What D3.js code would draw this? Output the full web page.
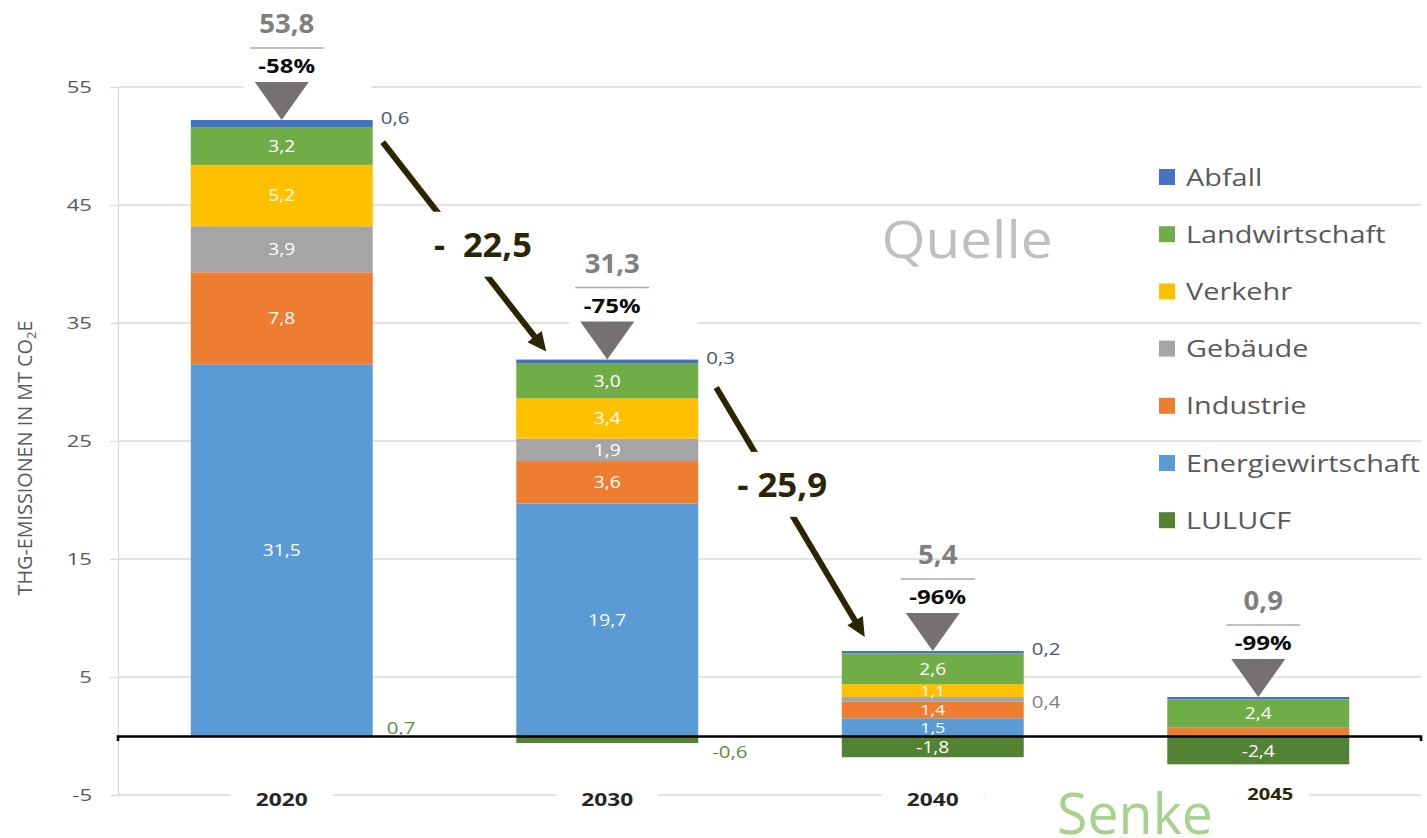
<!DOCTYPE html>
<html><head><meta charset="utf-8">
<script src="https://cdn.jsdelivr.net/npm/d3@7"></script>
<style>html,body{margin:0;padding:0;background:#fff;} svg{display:block;font-family:"Open Sans",sans-serif;} text{white-space:pre;}</style>
</head><body><svg id="c" width="1427" height="838"></svg>
<script>
// ---------- data ----------
const years = ["2020", "2030", "2040", "2045"];
const energiewirtschaft = [31.5, 19.7, 1.5, 0];
const industrie = [7.8, 3.6, 1.4, 0.7];
const gebaeude = [3.9, 1.9, 0.4, 0];
const verkehr = [5.2, 3.4, 1.1, 0];
const landwirtschaft = [3.2, 3.0, 2.6, 2.4];
const abfall = [0.6, 0.3, 0.2, 0.2];
const lulucf = [0.7, -0.6, -1.8, -2.4];
const totalLabels = ["53,8", "31,3", "5,4", "0,9"];
const reductionLabels = ["-58%", "-75%", "-96%", "-99%"];
const deltaLabels = ["-  22,5", "- 25,9"];
const yTicks = [-5, 5, 15, 25, 35, 45, 55];
const legendNames = ["Abfall", "Landwirtschaft", "Verkehr", "Gebäude", "Industrie", "Energiewirtschaft", "LULUCF"];

// ---------- style ----------
const colors = {
  "Abfall": "#4472c4", "Landwirtschaft": "#70ad47", "Verkehr": "#ffc000", "Gebäude": "#a5a5a5",
  "Industrie": "#ed7d31", "Energiewirtschaft": "#5b9bd5", "LULUCF": "#548235"
};
const outsideColors = { "Abfall": "#44546a", "Gebäude": "#7f7f7f", "LULUCF": "#5e8c3a" };
const arrowColor = "#2b2503";

const svg = d3.select("#c");
svg.append("rect").attr("width", 1427).attr("height", 838).attr("fill", "#fff");

const x = d3.scaleBand().domain(years).range([119, 1421]).paddingInner(0.441).paddingOuter(0.2205);
const y = d3.scaleLinear().domain([-5, 55]).range([795, 87]);
const bw = x.bandwidth();

function txt(g, str, px, py, o) {
  const t = g.append("text").text(str)
    .attr("font-size", o.size).attr("font-weight", o.weight || 400)
    .attr("fill", o.fill || "#595959").attr("text-anchor", o.anchor || "middle");
  if (o.dy) t.attr("dy", o.dy);
  let sx = o.sx || 1.2;
  if (o.w) { const len = t.node().getComputedTextLength(); if (len > 0) sx = o.w / len; }
  t.attr("transform", `translate(${px},${py}) scale(${sx},1)`);
  return t;
}
const fmt = v => (v < 0 ? "-" : "") + Math.abs(v).toFixed(1).replace(".", ",");

// ---------- gridlines ----------
svg.append("g").selectAll("line").data(yTicks).join("line")
  .attr("x1", 119).attr("x2", 1421).attr("y1", d => y(d)).attr("y2", d => y(d))
  .attr("stroke", "#d9d9d9").attr("stroke-width", 1.3);

// ---------- y axis ----------
const ax = svg.append("g").attr("transform", "translate(118,0)")
  .call(d3.axisLeft(y).tickValues(yTicks).tickSize(8).tickSizeOuter(0).tickFormat(d => d));
ax.select(".domain").attr("stroke", "#d9d9d9").attr("stroke-width", 1.3);
ax.selectAll(".tick line").attr("stroke", "#d9d9d9").attr("stroke-width", 1.3);
ax.selectAll(".tick text").attr("font-size", 17).attr("fill", "#595959")
  .attr("font-family", "Open Sans, sans-serif")
  .attr("x", -26 / 1.3).attr("transform", "scale(1.3,1)");

// y title
const yt = svg.append("text").attr("font-size", 18).attr("fill", "#595959").attr("text-anchor", "middle");
yt.append("tspan").text("THG-EMISSIONEN IN MT CO");
yt.append("tspan").text("2").attr("font-size", 12).attr("dy", 4);
yt.append("tspan").text("E").attr("dy", -4);
{
  const bb = yt.node().getBBox();
  yt.attr("transform", `translate(32,458) rotate(-90) scale(${275 / bb.width},1.08)`);
}

// ---------- white boxes that hide gridlines ----------
const positiveKeys = ["Energiewirtschaft", "Industrie", "Gebäude", "Verkehr", "Landwirtschaft", "Abfall"];
const seriesValues = {
  "Energiewirtschaft": energiewirtschaft, "Industrie": industrie, "Gebäude": gebaeude,
  "Verkehr": verkehr, "Landwirtschaft": landwirtschaft, "Abfall": abfall
};
const rows = years.map((yr, i) => {
  const r = { year: yr };
  positiveKeys.forEach(k => r[k] = seriesValues[k][i]);
  return r;
});
const stacked = d3.stack().keys(positiveKeys)(rows);
const tops = years.map((yr, i) => d3.sum(positiveKeys, k => seriesValues[k][i]));

const boxes = svg.append("g");
years.forEach((yr, i) => {
  const cx = x(yr) + bw / 2, apex = y(tops[i]);
  boxes.append("rect").attr("x", cx - 38).attr("width", 128)
    .attr("y", apex - 74).attr("height", 44).attr("fill", "#fff");
  boxes.append("rect").attr("x", cx - 51).attr("width", 102)
    .attr("y", 784).attr("height", 28).attr("fill", "#fff");
});
boxes.append("rect").attr("x", 985).attr("y", 784).attr("width", 315).attr("height", 54).attr("fill", "#fff");

// ---------- bars ----------
const bars = svg.append("g");
stacked.forEach(s => {
  bars.append("g").attr("fill", colors[s.key]).selectAll("rect").data(s).join("rect")
    .attr("x", d => x(d.data.year)).attr("width", bw)
    .attr("y", d => y(d[1])).attr("height", d => Math.max(0, y(d[0]) - y(d[1])));
});
bars.append("g").attr("fill", colors["LULUCF"]).selectAll("rect")
  .data(years.map((yr, i) => ({ year: yr, v: lulucf[i] })).filter(d => d.v < 0)).join("rect")
  .attr("x", d => x(d.year)).attr("width", bw)
  .attr("y", y(0)).attr("height", d => y(d.v) - y(0));

// zero axis line
svg.append("path").attr("d", `M118,741V736.5H1421V741`).attr("fill", "none")
  .attr("stroke", "#000").attr("stroke-width", 2.6);

// ---------- value labels ----------
const labels = svg.append("g");
stacked.forEach(s => {
  s.forEach((d, i) => {
    const v = d.data[s.key];
    if (v <= 0) return;
    const xb = x(d.data.year);
    const small = (y(d[0]) - y(d[1])) < 20;
    if (v >= 1) {
      txt(labels, fmt(v), xb + bw / 2, (y(d[0]) + y(d[1])) / 2, { size: small ? 15 : 16, fill: "#fff", dy: "0.36em" });
    } else if (i < years.length - 1) {
      const yy = s.key === "Abfall" ? y(d[1]) - 2 : (y(d[0]) + y(d[1])) / 2 + 2;
      txt(labels, fmt(v), xb + bw + 8, yy, { size: 17, anchor: "start", fill: outsideColors[s.key], dy: "0.36em" });
    }
  });
});
years.forEach((yr, i) => {
  const v = lulucf[i], xb = x(yr);
  if (v <= -1) {
    txt(labels, fmt(v), xb + bw / 2, (y(0) + y(v)) / 2 + 1, { size: 16, fill: "#fff", dy: "0.36em" });
  } else {
    txt(labels, fmt(v), xb + bw + 14, y(v) + (v < 0 ? 9 : 0), { size: 17, anchor: "start", fill: outsideColors["LULUCF"], dy: "0.36em" });
  }
});

// ---------- top annotations ----------
const ann = svg.append("g");
years.forEach((yr, i) => {
  const cx = x(yr) + bw / 2, apex = y(tops[i]);
  ann.append("path").attr("d", `M${cx - 27},${apex - 38}L${cx + 27},${apex - 38}L${cx},${apex}Z`).attr("fill", "#767171");
  ann.append("line").attr("x1", cx + 5 - 37).attr("x2", cx + 5 + 37)
    .attr("y1", apex - 72).attr("y2", apex - 72).attr("stroke", "#ababab").attr("stroke-width", 1.5);
  txt(ann, totalLabels[i], cx + 5, apex - 87, { size: 26, weight: 700, fill: "#7f7f7f", sx: 1.06 });
  txt(ann, reductionLabels[i], cx + 5, apex - 47, { size: 20, weight: 700, fill: "#0d0d0d", sx: 1.2 });
});

// ---------- year labels ----------
years.forEach((yr, i) => {
  const cx = x(yr) + bw / 2;
  if (i < years.length - 1) {
    txt(svg, yr, cx, 806, { size: 18, weight: 700, fill: "#262626", w: 52 });
  } else {
    txt(svg, yr, cx + 12, 800, { size: 16, weight: 700, fill: arrowColor, w: 46 });
  }
});

// ---------- arrows ----------
function arrow(x1, y1, x2, y2, label, t, dx) {
  const g = svg.append("g");
  const ang = Math.atan2(y2 - y1, x2 - x1);
  const hl = 19, hw = 9;
  const bx = x2 - hl * Math.cos(ang), by = y2 - hl * Math.sin(ang);
  g.append("line").attr("x1", x1).attr("y1", y1).attr("x2", bx + 2 * Math.cos(ang)).attr("y2", by + 2 * Math.sin(ang))
    .attr("stroke", arrowColor).attr("stroke-width", 6);
  g.append("path").attr("d",
    `M${x2},${y2}L${bx + hw * Math.sin(ang)},${by - hw * Math.cos(ang)}L${bx - hw * Math.sin(ang)},${by + hw * Math.cos(ang)}Z`)
    .attr("fill", arrowColor);
  const lx = x1 + t * (x2 - x1) + dx, ly = y1 + t * (y2 - y1);
  g.append("rect").attr("x", lx - 56).attr("y", ly - 33).attr("width", 112).attr("height", 65).attr("fill", "#fff");
  txt(g, label, lx, ly + 12, { size: 34, weight: 700, fill: arrowColor, w: label === deltaLabels[0] ? 98 : 90 });
}
arrow(x(years[0]) + bw + 10, y(tops[0]) + 22, x(years[1]) + 30, y(tops[1]) - 8, deltaLabels[0], 0.49, 20);
arrow(x(years[1]) + bw + 18, y(tops[1]) + 28, x(years[2]) + 23, y(tops[2]) - 14, deltaLabels[1], 0.39, 8);

// ---------- legend ----------
const lg = svg.append("g");
legendNames.forEach((n, i) => {
  const cy = 177 + i * 57.2;
  lg.append("rect").attr("x", 1159).attr("y", cy - 8).attr("width", 16).attr("height", 16).attr("fill", colors[n]);
});
{
  const probe = lg.append("text").text("Energiewirtschaft").attr("font-size", 24);
  const sx = 234 / probe.node().getComputedTextLength();
  probe.remove();
  legendNames.forEach((n, i) => {
    const cy = 177 + i * 57.2;
    txt(lg, n, 1186, cy, { size: 24, anchor: "start", fill: "#595959", dy: "0.36em", sx: sx });
  });
}

// ---------- Quelle / Senke ----------
txt(svg, "Quelle", 967, 258, { size: 52, fill: "#bfbfbf", w: 171 });
txt(svg, "Senke", 1135, 834, { size: 56, fill: "#a9d18e", w: 156 });
</script>
</body></html>
